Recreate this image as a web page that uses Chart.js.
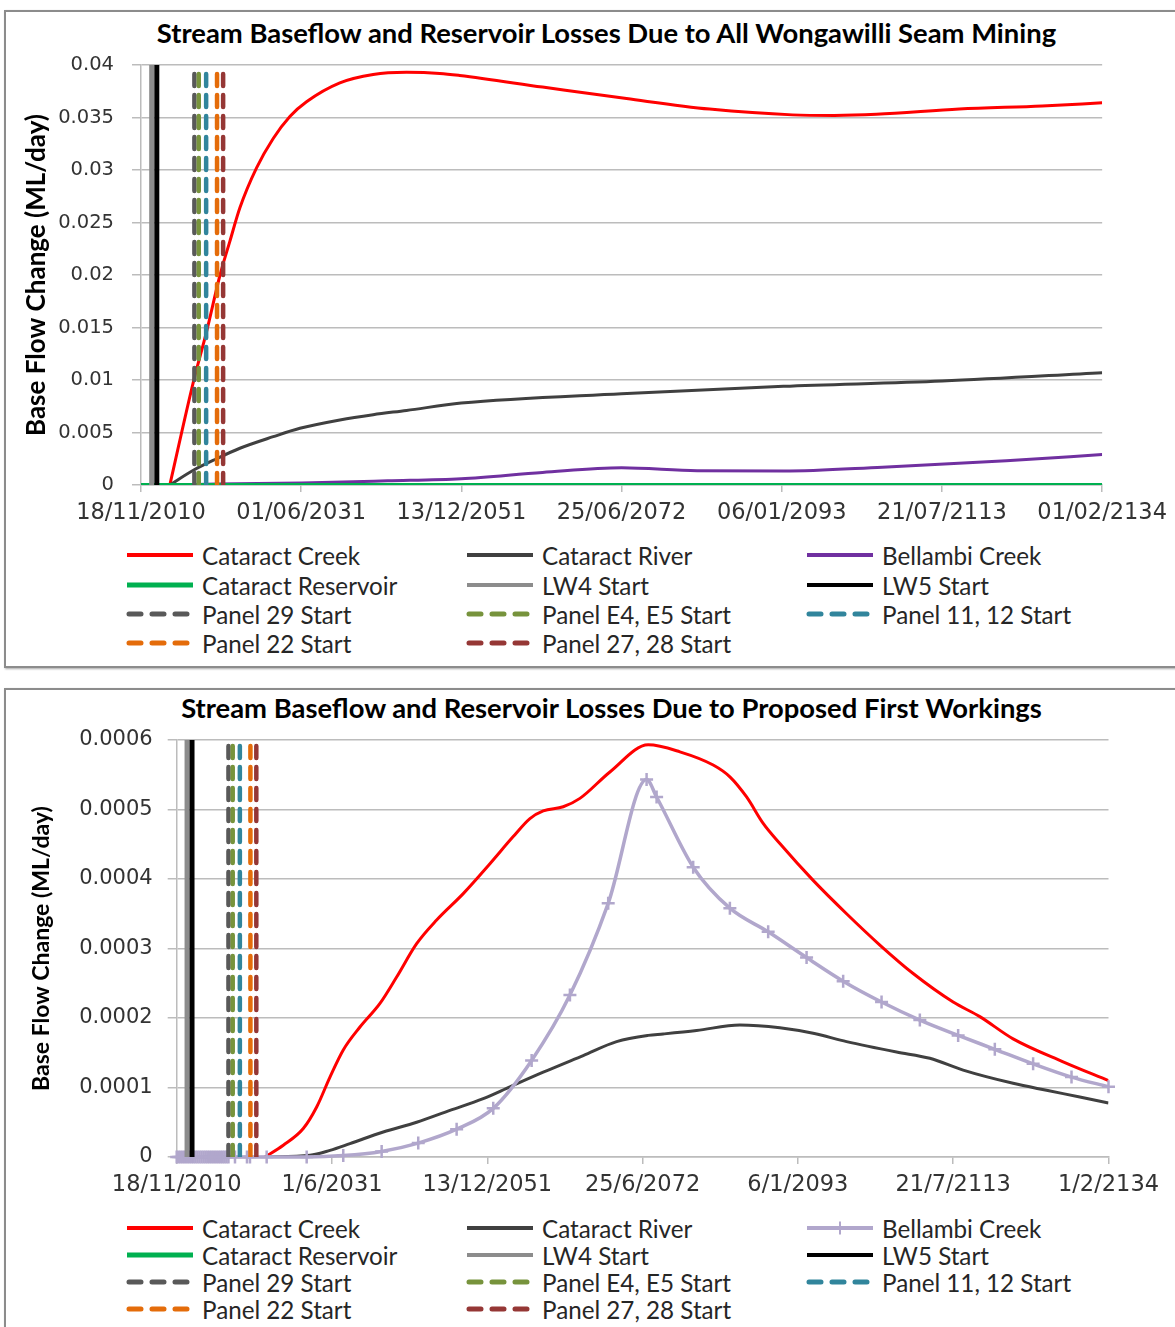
<!DOCTYPE html>
<html>
<head>
<meta charset="utf-8">
<title>Stream Baseflow and Reservoir Losses</title>
<script src="https://cdn.jsdelivr.net/npm/chart.js@4.4.1/dist/chart.umd.min.js"></script>
<style>
    html, body { margin: 0; padding: 0; background: #fff; overflow: hidden; }
    body { width: 1175px; height: 1327px; position: relative; }
    .box { position: absolute; left: 4px; width: 1190px; border: 2px solid #8c8c8c; background: #fff; box-shadow: 1px 1px 2px rgba(0,0,0,0.35); }
    #box1 { top: 10px; height: 654px; }
    #box2 { top: 688px; height: 660px; }
    .title { position: absolute; left: 0; font-family: Lato, sans-serif; font-weight: bold; font-size: 27.4px; line-height: 30px; color: #000; text-align: center; white-space: nowrap; }
    canvas { position: absolute; left: 0; top: 0; }
    .item { position: absolute; height: 28px; display: flex; align-items: center; white-space: nowrap; font-family: Lato, sans-serif; font-size: 24.2px; color: #262626; }
    .item svg { margin-right: 7px; }
</style>
</head>
<body>
<div class="box" id="box1">
    <div class="title" style="top:6px;width:1201px;">Stream Baseflow and Reservoir Losses Due to All Wongawilli Seam Mining</div>
    <canvas id="chartAll" width="1169" height="520"></canvas>
    <div id="legendAll"></div>
</div>
<div class="box" id="box2">
    <div class="title" style="top:3px;width:1211px;">Stream Baseflow and Reservoir Losses Due to Proposed First Workings</div>
    <canvas id="chartFirst" width="1169" height="514"></canvas>
    <div id="legendFirst"></div>
</div>
<script>
// x values are Excel date serials (days), 40500 = 18/11/2010
const tickDays = [40500, 48000, 55500, 63000, 70500, 78000, 85500];
const topTickLabels = ['18/11/2010', '01/06/2031', '13/12/2051', '25/06/2072', '06/01/2093', '21/07/2113', '01/02/2134'];
const bottomTickLabels = ['18/11/2010', '1/6/2031', '13/12/2051', '25/6/2072', '6/1/2093', '21/7/2113', '1/2/2134'];

const seriesNames = ['Cataract Creek', 'Cataract River', 'Bellambi Creek', 'Cataract Reservoir'];
const eventNames = ['LW4 Start', 'LW5 Start', 'Panel 29 Start', 'Panel E4, E5 Start', 'Panel 11, 12 Start', 'Panel 22 Start', 'Panel 27, 28 Start'];
const eventDays = [41000, 41240, 43000, 43205, 43550, 44060, 44345];

// 全部 Wongawilli 开采
const allCreekDays = [41850, 42950, 43570, 44200, 44660, 45130, 45910, 46690, 47470, 48250, 49810, 51370, 52930, 54490, 55420, 59300, 63230, 67120, 71000, 72960, 74930, 78810, 82690, 85500];
const allCreekFlow = [0, 0.0098, 0.0146, 0.0200, 0.0232, 0.0264, 0.0302, 0.0330, 0.0351, 0.0365, 0.0383, 0.0391, 0.0393, 0.0392, 0.0390, 0.0379, 0.0368, 0.0358, 0.03525, 0.0352, 0.0353, 0.0358, 0.0361, 0.0364];
const allRiverDays = [41850, 42950, 44040, 45130, 46690, 47940, 49810, 51370, 52930, 55490, 63000, 70580, 78015, 85500];
const allRiverFlow = [0, 0.0014, 0.0025, 0.0035, 0.0046, 0.0054, 0.0062, 0.0067, 0.0071, 0.0078, 0.0087, 0.0094, 0.0099, 0.0107];
const allBellambiDays = [41850, 44000, 48020, 52050, 55490, 59300, 63000, 66540, 70580, 75210, 81010, 85500];
const allBellambiFlow = [0, 0.0001, 0.0002, 0.0004, 0.0006, 0.0012, 0.00165, 0.00136, 0.00133, 0.0017, 0.0023, 0.0029];
const allReservoirDays = [40500, 41850, 63000, 85500];
const allReservoirFlow = [0, 0, 0, 0];

// 拟议首采
const firstCreekDays = [44763, 45647, 46613, 47260, 47902, 48544, 49350, 50316, 51122, 52088, 53054, 54338, 55627, 56752, 57559, 58201, 59166, 59973, 61421, 63270, 64801, 66409, 67215, 68022, 68823, 69629, 71237, 72850, 74458, 76066, 77997, 79286, 80894, 83308, 85500];
const firstCreekFlow = [0, 0.000017, 0.000041, 0.000072, 0.000115, 0.000154, 0.000187, 0.000221, 0.000259, 0.000307, 0.000341, 0.000379, 0.000422, 0.000461, 0.000487, 0.000498, 0.000504, 0.000516, 0.000554, 0.000593, 0.000583, 0.000564, 0.000547, 0.000518, 0.00048, 0.000451, 0.000398, 0.00035, 0.000305, 0.000264, 0.000223, 0.000202, 0.00017, 0.000137, 0.00011];
const firstRiverDays = [44763, 46936, 47902, 48868, 50475, 52088, 53696, 55304, 56593, 58201, 60132, 61745, 63270, 63995, 65607, 67698, 69629, 71237, 72850, 75264, 76872, 78480, 80894, 82507, 84115, 85500];
const firstRiverFlow = [0, 0.0000024, 0.0000096, 0.0000193, 0.000036, 0.00005, 0.000067, 0.000084, 0.000101, 0.000122, 0.000146, 0.000166, 0.000175, 0.000177, 0.000182, 0.00019, 0.000186, 0.000178, 0.000166, 0.000151, 0.000142, 0.000125, 0.000106, 0.000096, 0.0000864, 0.0000778];
// dense daily-ish output during mining, all zero
const firstBellambiDays = [40500, 40600, 40700, 40800, 40900, 41000, 41100, 41200, 41300, 41400, 41500, 41600, 41700,
    41800, 41900, 42000, 42100, 42200, 42300, 42400, 42500, 42600, 42700, 42800, 42900, 43000,
    43315, 43894, 44039, 44845, 46777, 48544, 50398, 52165, 54019, 55787, 57641, 59490, 61339, 63193, 63676, 65443, 67215, 69064, 70919, 72686, 74540, 76389, 78239, 80010, 81860, 83714, 85500];
const firstBellambiFlow = [0, 0, 0, 0, 0, 0, 0, 0, 0, 0, 0, 0, 0,
    0, 0, 0, 0, 0, 0, 0, 0, 0, 0, 0, 0, 0,
    0, 0, 0, 0, 0, 0.000002, 0.000008, 0.00002, 0.00004, 0.00007, 0.000139, 0.000233, 0.000365, 0.000543, 0.000518, 0.000417, 0.000358, 0.000324, 0.000287, 0.000253, 0.000223, 0.000197, 0.000175, 0.000155, 0.000134, 0.000115, 0.000101];
const firstReservoirDays = [];
const firstReservoirFlow = [];

const eventColors = ['#8c8c8c', '#000000', '#595959', '#77933c', '#31859c', '#e46c0a', '#953735'];
const gridColor = '#bcbcbc';

function pts(days, vals) {
    return days.map((d, i) => ({ x: d, y: vals[i] }));
}

function curve(label, days, vals, color, width, extra) {
    return Object.assign({
        label: label,
        data: pts(days, vals),
        borderColor: color,
        backgroundColor: color,
        borderWidth: width,
        pointRadius: 0,
        cubicInterpolationMode: 'monotone'
    }, extra || {});
}

// 竖线：开采开始时间
function eventLines(yTop) {
    return eventNames.map((name, i) => ({
        label: name,
        data: [{ x: eventDays[i], y: 0 }, { x: eventDays[i], y: yTop }],
        borderColor: eventColors[i],
        backgroundColor: eventColors[i],
        borderWidth: i < 2 ? 5 : 4.5,
        borderDash: i < 2 ? [] : [12, 9],
        borderCapStyle: i < 2 ? 'butt' : 'round',
        pointRadius: 0
    }));
}

function makeChart(id, datasets, cfg) {
    // later series drawn on top, like the original
    datasets.forEach((d, i) => { d.order = datasets.length - i; });
    return new Chart(document.getElementById(id), {
        type: 'line',
        data: { datasets: datasets },
        options: {
            responsive: false,
            animation: false,
            events: [],
            layout: { padding: cfg.padding },
            plugins: {
                legend: { display: false },
                title: { display: false },
                tooltip: { enabled: false }
            },
            scales: {
                x: {
                    type: 'linear',
                    min: 40500,
                    max: 85500,
                    afterBuildTicks: s => { s.ticks = tickDays.map(v => ({ value: v })); },
                    afterFit: s => { s.height = cfg.xHeight; },
                    grid: { drawOnChartArea: false, tickLength: 7, color: gridColor, lineWidth: 1.5 },
                    border: { color: gridColor, width: 1.5 },
                    ticks: {
                        autoSkip: false,
                        maxRotation: 0,
                        minRotation: 0,
                        padding: 8,
                        color: '#333',
                        font: { family: 'DejaVu Sans', size: 22.5 },
                        callback: (v, i) => cfg.tickLabels[i]
                    }
                },
                y: {
                    min: 0,
                    max: cfg.yMax,
                    afterFit: s => { s.width = cfg.yWidth; },
                    grid: { color: gridColor, lineWidth: 1.5, tickLength: 9 },
                    border: { color: gridColor, width: 1.5 },
                    ticks: {
                        stepSize: cfg.yStep,
                        padding: cfg.yPad,
                        color: '#333',
                        font: { family: 'DejaVu Sans', size: cfg.yFont },
                        callback: v => String(parseFloat(v.toFixed(cfg.yDigits)))
                    },
                    title: {
                        display: true,
                        text: 'Base Flow Change (ML/day)',
                        color: '#000',
                        font: { family: 'Lato', weight: 'bold', size: cfg.titleSize },
                        padding: { top: cfg.titlePad, bottom: 0 }
                    }
                }
            }
        }
    });
}

// HTML 图例，三列
function buildLegend(elId, chart, rowYs) {
    const colX = [119, 459, 799];
    const el = document.getElementById(elId);
    chart.data.datasets.forEach((ds, i) => {
        const dashed = ds.borderDash && ds.borderDash.length;
        const w = ds.label === 'Cataract Reservoir' ? 5 : (dashed ? 5 : 4);
        let line = dashed
            ? `<line x1="4" y1="8" x2="64" y2="8" stroke="${ds.borderColor}" stroke-width="${w}" stroke-dasharray="12 11" stroke-linecap="round"/>`
            : `<line x1="2" y1="8" x2="68" y2="8" stroke="${ds.borderColor}" stroke-width="${w}"/>`;
        if (ds.pointStyle === 'cross') {
            line += `<line x1="28.5" y1="8" x2="41.5" y2="8" stroke="${ds.borderColor}" stroke-width="2"/>` +
                    `<line x1="35" y1="1.5" x2="35" y2="14.5" stroke="${ds.borderColor}" stroke-width="2"/>`;
        }
        const item = document.createElement('div');
        item.className = 'item';
        item.style.left = colX[i % 3] + 'px';
        item.style.top = (rowYs[Math.floor(i / 3)] - 14) + 'px';
        item.innerHTML = `<svg width="70" height="16">${line}</svg><span>${ds.label}</span>`;
        el.appendChild(item);
    });
}

const allSets = [
    curve(seriesNames[0], allCreekDays, allCreekFlow, '#ff0000', 3),
    curve(seriesNames[1], allRiverDays, allRiverFlow, '#404040', 3),
    curve(seriesNames[2], allBellambiDays, allBellambiFlow, '#7030a0', 3),
    curve(seriesNames[3], allReservoirDays, allReservoirFlow, '#00b050', 4)
].concat(eventLines(0.04));

const firstSets = [
    curve(seriesNames[0], firstCreekDays, firstCreekFlow, '#ff0000', 3),
    curve(seriesNames[1], firstRiverDays, firstRiverFlow, '#404040', 3),
    curve(seriesNames[2], firstBellambiDays, firstBellambiFlow, '#b1a7cc', 3.5, {
        pointStyle: 'cross', pointRadius: 6.5, pointBorderWidth: 2.5, pointBorderColor: '#b1a7cc', clip: false
    }),
    curve(seriesNames[3], firstReservoirDays, firstReservoirFlow, '#00b050', 3)
].concat(eventLines(0.0006));

const chartAll = makeChart('chartAll', allSets, {
    padding: { left: 10, right: 72, top: 53, bottom: 0 },
    xHeight: 47, yWidth: 125, yMax: 0.04, yStep: 0.005, yDigits: 3, yPad: 18, yFont: 19.5,
    titleSize: 26, titlePad: 5, tickLabels: topTickLabels
});
const chartFirst = makeChart('chartFirst', firstSets, {
    padding: { left: 10, right: 66.5, top: 50, bottom: 0 },
    xHeight: 47, yWidth: 160.7, yMax: 0.0006, yStep: 0.0001, yDigits: 4, yPad: 15, yFont: 21,
    titleSize: 23, titlePad: 12, tickLabels: bottomTickLabels
});

buildLegend('legendAll', chartAll, [543, 573, 602, 631]);
buildLegend('legendFirst', chartFirst, [538, 565, 592, 619]);
</script>
</body>
</html>
